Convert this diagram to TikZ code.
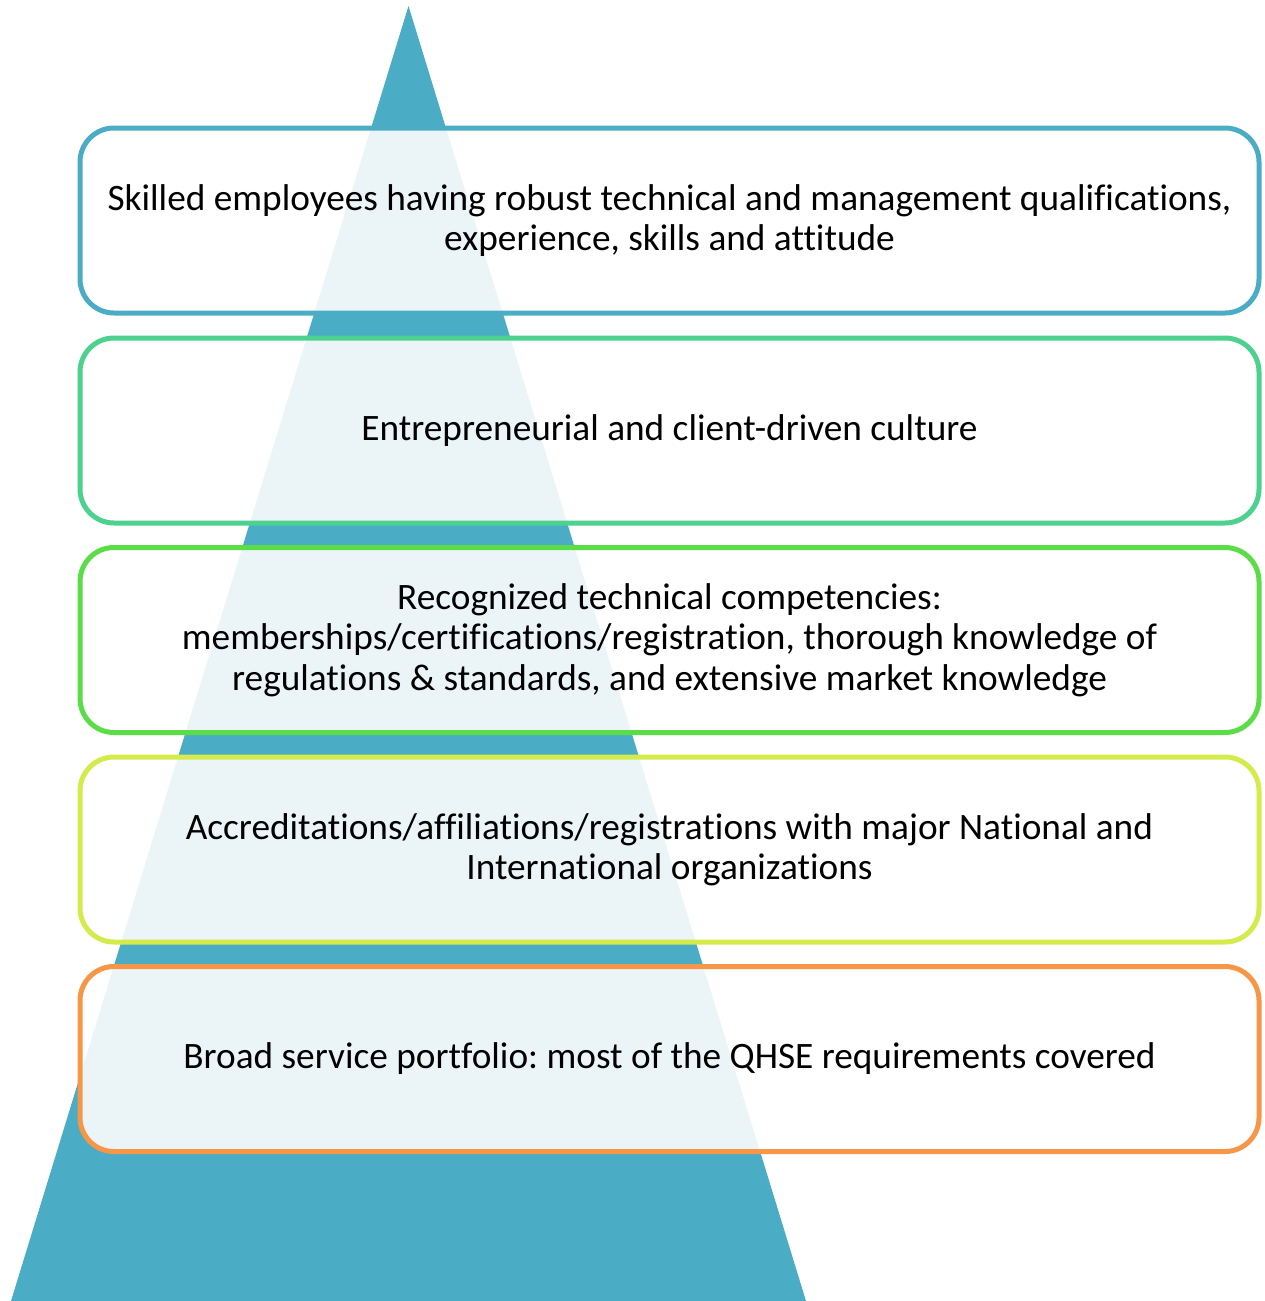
\documentclass[tikz,border=0pt]{standalone}
\usepackage{fontspec}
\setmainfont[Ligatures={NoCommon}]{Carlito}
\frenchspacing
\definecolor{tri}{HTML}{4BACC6}
\definecolor{cA}{HTML}{4BACC6}
\definecolor{cB}{HTML}{4CD28E}
\definecolor{cC}{HTML}{5ADD46}
\definecolor{cD}{HTML}{D4EB4B}
\definecolor{cE}{HTML}{F79646}
\tikzset{
  tier/.style={draw=#1, line width=5pt, rounded corners=34pt,
    fill=white, fill opacity=0.89, text opacity=1,
    minimum width=1179pt, minimum height=185pt, inner sep=0pt,
    align=center, text=black, font=\fontsize{37.3}{40.5}\selectfont}
}
\begin{document}
\begin{tikzpicture}[x=1pt,y=-1pt]
\useasboundingbox (0,0) rectangle (1264,1301);
\fill[tri] (408.5,6) -- (806,1301) -- (11,1301) -- cycle;
\node[tier=cA] (t1) at (669.5,220.5) {Skilled employees having robust technical and management qualifications,\\experience, skills and attitude};
\node[tier=cB] (t2) at (669.5,430.5) {Entrepreneurial and client-driven culture};
\node[tier=cC] (t3) at (669.5,640) {Recognized technical competencies:\\memberships/certifications/registration, thorough knowledge of\\regulations \& standards, and extensive market knowledge};
\node[tier=cD] (t4) at (669.5,849.5) {Accreditations/affiliations/registrations with major National and\\International organizations};
\node[tier=cE] (t5) at (669.5,1059) {Broad service portfolio: most of the QHSE requirements covered};
\end{tikzpicture}
\end{document}
